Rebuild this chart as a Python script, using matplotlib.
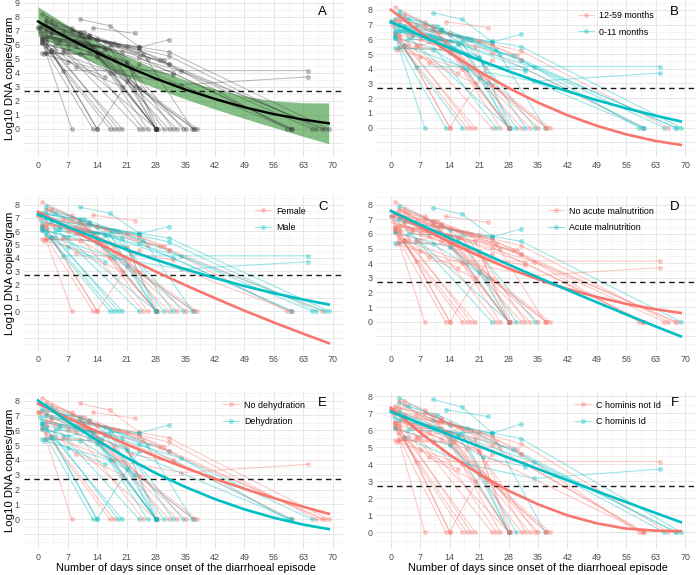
import numpy as np
import matplotlib
matplotlib.use('Agg')
import matplotlib.pyplot as plt
from matplotlib.lines import Line2D
from matplotlib.ticker import MultipleLocator, AutoMinorLocator

plt.rcParams['font.family'] = ['Liberation Sans', 'DejaVu Sans']

# --- dane: trajektorie pacjentow (dni od poczatku biegunki, log10 kopii DNA/g) ---
subj_days = [
    [0, 28], [1, 8], [2, 13], [3, 14], [1, 17], [2, 18], [4, 19], [1, 20],
    [6, 24], [2, 9, 25], [3, 12, 26], [1, 10, 28], [2, 14, 28], [0.5, 11, 28],
    [5, 17, 28], [3, 21, 28.5], [2, 16, 29.8], [4, 13, 31], [1, 12, 21, 32],
    [2, 15, 33], [3, 17, 34.3], [2, 10, 24, 36.6], [1, 12, 37], [6, 14, 37.8],
    [1, 10, 24, 60], [2, 12, 31, 59], [3, 14, 32, 60.3], [1, 16, 34, 65],
    [2, 12, 31, 66], [0, 10, 29, 67.5], [2, 14, 31, 69], [10, 17, 24], [13, 23],
    [1, 6, 64], [3, 18, 34, 64], [4, 24, 31], [2, 9, 20], [1, 14, 21, 28],
    [1.5, 17, 28], [5, 20, 28], [0.5, 24, 31], [6, 16, 26], [8, 14, 21, 30],
    [3, 7, 16], [12, 19, 25], [2, 11, 22, 32], [7, 18, 24, 37], [2, 14, 24],
    [1, 10, 23], [3, 8, 35], [2, 7, 13], [4, 11, 18, 68], [1, 9, 15, 60],
]
subj_vals = [
    [7.25, 0], [6.2, 0], [5.5, 0], [5.6, 0], [6.1, 0], [5.8, 0], [5.6, 0], [6.4, 0],
    [5.6, 0], [6.5, 5.9, 0], [7.5, 6.1, 0], [8.2, 6.8, 0], [7.0, 5.5, 0], [6.9, 6.5, 0],
    [6.2, 5.8, 0], [6.6, 4.8, 0], [7.1, 5.7, 0], [6.4, 5.9, 0], [7.4, 6.7, 4.7, 0],
    [5.4, 5.3, 0], [6.9, 6.1, 0], [7.6, 6.6, 5.8, 0], [6.4, 5.5, 0], [5.5, 5.2, 0],
    [7.3, 6.9, 5.1, 0], [7.7, 6.6, 4.6, 0], [6.8, 5.9, 4.0, 0], [6.7, 5.7, 4.1, 0],
    [7.3, 6.5, 5.2, 0], [7.2, 6.2, 4.9, 0], [7.9, 6.3, 5.5, 0], [7.8, 7.35, 5.85], [7.2, 6.8],
    [6.3, 4.15, 4.15], [5.6, 4.0, 3.15, 3.7], [6.0, 5.8, 6.35], [6.3, 4.4, 3.0], [6.1, 5.1, 3.4, 0],
    [5.3, 4.0, 0], [6.3, 5.5, 0], [7.2, 5.6, 4.6], [6.9, 6.2, 5.0], [7.0, 6.4, 5.9, 4.9],
    [5.5, 4.8, 3.7], [6.6, 6.0, 5.3], [6.6, 6.1, 4.4, 3.85], [6.0, 4.9, 2.9, 0], [6.2, 0, 4.6],
    [5.4, 5.3, 3.0], [7.7, 7.2, 0], [6.0, 5.6, 5.9], [7.4, 6.9, 6.1, 0], [6.5, 6.3, 5.4, 0],
]

# grupy (0 = pierwsza kategoria legendy, 1 = druga, -1 = brak danych)
age_grp = [1, 1, 1, 0, 1, 0, 0, 0, 0, 1, 0, 0, 1, 0, 1, 1, 1, 0, 1, 0, 1, 1, 0, 0, 0,
           1, 1, 1, 0, 1, 1, 1, 0, 1, 1, 1, 0, 1, 0, 0, 0, 1, 0, 0, 1, 1, 0, 0, 1, 0,
           0, 1, 1]
sex_grp = [1, 0, 0, 0, 1, 1, 1, 1, 1, 0, 0, 0, 1, 0, 1, 0, 1, 0, 1, 0, 1, 1, 1, 0, 1,
           0, 1, 1, 1, 0, 1, 1, 0, 1, 1, 1, 0, 1, 0, 1, 0, 0, 0, 1, 1, 0, 0, 0, 0, 0,
           1, 1, 0]
maln_grp = [1, 0, 0, 0, 0, 0, 0, 0, 1, 0, 0, 0, 1, 0, 0, 0, 1, 0, 0, 0, 1, 0, 0, 0, 0,
            0, 0, 0, 0, 0, 1, 1, 0, 0, 0, 1, 0, 1, 0, 0, 0, 0, 0, 0, 0, 0, 0, 0, 1, 0,
            0, 0, 0]
dehy_grp = [0, 0, 1, 1, 0, 0, 1, 1, 1, 0, 1, 0, 1, 1, 1, 0, 1, 0, 1, 0, 1, 1, 1, 0, 1,
            1, 0, 1, 0, 0, 0, 0, 0, -1, 0, 1, 0, 1, 1, 1, 0, 1, 0, 1, 0, 0, 0, 1, 1, 0,
            1, 0, 1]
homi_grp = [0, 0, 0, 0, 0, 0, 0, 0, 0, 0, 0, -1, 1, 0, 1, 0, 1, 0, 0, 0, 0, 1, 0, 0, 0,
            0, 0, 1, 0, 1, 1, 1, 1, 0, 1, 1, 0, 1, 0, 0, 0, 0, 0, 0, 0, 1, 0, 0, 0, 0,
            0, 1, 0]

# dopasowane krzywe modelu
fit_days = [0, 7, 14, 21, 28, 35, 42, 49, 56, 63, 69]
fit_all = [7.65, 6.48, 5.42, 4.45, 3.58, 2.80, 2.13, 1.54, 1.05, 0.66, 0.40]
ci_upper = [8.70, 7.38, 6.22, 5.17, 4.26, 3.48, 2.85, 2.34, 2.00, 1.86, 1.85]
ci_lower = [6.60, 5.58, 4.62, 3.73, 2.90, 2.12, 1.41, 0.74, 0.10, -0.54, -1.05]
fit_age = [[8.00, 6.47, 5.07, 3.81, 2.69, 1.70, 0.84, 0.12, -0.46, -0.91, -1.18],
           [7.17, 6.26, 5.39, 4.58, 3.83, 3.12, 2.47, 1.86, 1.31, 0.81, 0.42]]
fit_sex = [[7.46, 6.27, 5.13, 4.02, 2.96, 1.94, 0.97, 0.03, -0.86, -1.71, -2.41],
           [7.27, 6.33, 5.45, 4.62, 3.85, 3.14, 2.48, 1.88, 1.34, 0.86, 0.49]]
fit_maln = [[7.57, 6.45, 5.42, 4.49, 3.64, 2.90, 2.24, 1.69, 1.22, 0.85, 0.60],
            [7.57, 6.63, 5.71, 4.80, 3.91, 3.03, 2.17, 1.33, 0.50, -0.32, -1.00]]
fit_dehy = [[7.79, 6.83, 5.92, 5.05, 4.23, 3.46, 2.73, 2.05, 1.42, 0.84, 0.37],
            [8.00, 6.60, 5.31, 4.15, 3.10, 2.17, 1.36, 0.67, 0.10, -0.36, -0.66]]
fit_homi = [[7.31, 5.84, 4.54, 3.41, 2.43, 1.63, 0.98, 0.51, 0.20, 0.08, 0.05],
            [7.07, 6.39, 5.71, 5.04, 4.37, 3.71, 3.05, 2.40, 1.76, 1.12, 0.58]]

threshold = 2.7
x_ticks = list(range(0, 71, 7))

age_labels = ['12-59 months', '0-11 months']
sex_labels = ['Female', 'Male']
maln_labels = ['No acute malnutrition', 'Acute malnutrition']
dehy_labels = ['No dehydration', 'Dehydration']
homi_labels = ['C hominis not Id', 'C hominis Id']

PAL = ['#F8766D', '#00BFC4']
W, H = 696, 575
fig = plt.figure(figsize=(W / 100, H / 100), dpi=100)


def px_axes(left, top, right, bottom):
    return fig.add_axes([left / W, 1 - bottom / H, (right - left) / W, (bottom - top) / H])


def style_axes(ax, ylim, ymax_label):
    ax.set_xlim(-3.45, 72.45)
    ax.set_ylim(*ylim)
    lo = int(np.floor(ylim[0]))
    yt = list(range(lo, int(np.floor(ylim[1])) + 1))
    ax.set_yticks(yt)
    ax.set_yticklabels([str(t) if 0 <= t <= ymax_label else '' for t in yt])
    ax.set_xticks(x_ticks)
    ax.xaxis.set_minor_locator(MultipleLocator(3.5))
    ax.yaxis.set_minor_locator(AutoMinorLocator(2))
    ax.grid(which='major', color='#E6E6E6', lw=0.7)
    ax.grid(which='minor', color='#EFEFEF', lw=0.45)
    ax.tick_params(which='both', length=0, labelsize=6.4, labelcolor='#4D4D4D', pad=3)
    for s in ax.spines.values():
        s.set_visible(False)
    ax.set_axisbelow(True)
    ax.axhline(threshold, color='#1a1a1a', lw=1.0, ls=(0, (4, 3)), zorder=4)


def spaghetti(ax, groups):
    for i in range(len(subj_days)):
        g = groups[i]
        if g < 0:
            continue
        ax.plot(subj_days[i], subj_vals[i], '-o', color=PAL[g], alpha=0.38,
                lw=0.8, ms=3.6, mew=0, zorder=2)


def legend(ax, labels, x_px, y_px):
    handles = [Line2D([], [], color=PAL[k], marker='o', lw=0.8, ms=3.6, mew=0, alpha=0.38)
               for k in range(2)]
    ax.legend(handles, labels, loc='upper left', bbox_to_anchor=(x_px / W, 1 - y_px / H),
              bbox_transform=fig.transFigure, frameon=False, fontsize=6.4,
              handlelength=1.8, handletextpad=0.6, labelspacing=0.85,
              borderpad=0, borderaxespad=0)


# uklad paneli (piksele: lewo, gora, prawo, dol)
rows = [(0, 157), (195, 351), (391, 549)]
cols = [(23.5, 343.3), (376.5, 695.3)]

panels = [
    ('A', None, None, None, (-1.38, 9.18), 9),
    ('B', age_grp, fit_age, age_labels, (-1.67, 8.67), 8),
    ('C', sex_grp, fit_sex, sex_labels, (-2.72, 8.72), 8),
    ('D', maln_grp, fit_maln, maln_labels, (-1.46, 8.66), 8),
    ('E', dehy_grp, fit_dehy, dehy_labels, (-1.1, 8.64), 8),
    ('F', homi_grp, fit_homi, homi_labels, (-0.4, 8.3), 8),
]
legend_pos = {'B': (578, 11), 'C': (255, 206.5), 'D': (548, 206.5),
              'E': (223, 400.5), 'F': (575, 400.5)}

for k, (letter, groups, fits, labels, ylim, ymax_label) in enumerate(panels):
    r, c = divmod(k, 2)
    top, bottom = rows[r]
    left, right = cols[c]
    ax = px_axes(left, top, right, bottom)
    style_axes(ax, ylim, ymax_label)

    if groups is None:
        ax.fill_between(fit_days, ci_lower, ci_upper, color='forestgreen', alpha=0.55,
                        lw=0, zorder=1)
        for i in range(len(subj_days)):
            ax.plot(subj_days[i], subj_vals[i], '-o', color='#333333', alpha=0.32,
                    lw=0.75, ms=3.6, mew=0, zorder=2)
        ax.plot(fit_days, fit_all, color='black', lw=1.7, zorder=5)
    else:
        spaghetti(ax, groups)
        for g in range(2):
            ax.plot(fit_days, fits[g], color=PAL[g], lw=1.9, zorder=5)
        legend(ax, labels, *legend_pos[letter])

    # litera panelu
    fig.text((right - 20.5) / W, 1 - (top + 12) / H, letter, fontsize=9.5,
             ha='center', va='center')

    if c == 0:
        fig.text(10 / W, 1 - (top + bottom) / 2 / H, 'Log10 DNA copies/gram',
                 rotation=90, fontsize=8.2, ha='center', va='center')
    if r == 2:
        x0 = left + 3.45 * (right - left) / 75.9
        x70 = left + 73.45 * (right - left) / 75.9
        fig.text((x0 + x70) / 2 / W, 1 - 568 / H,
                 'Number of days since onset of the diarrhoeal episode',
                 fontsize=7.8, ha='center', va='center')

fig.savefig('out.png', dpi=100)
